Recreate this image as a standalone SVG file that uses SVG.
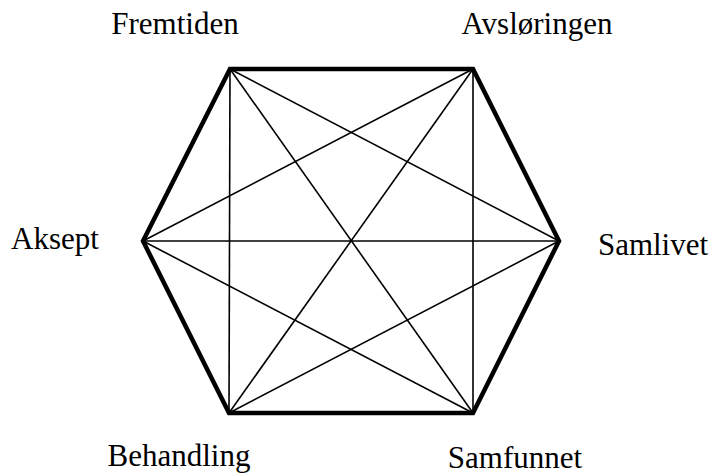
<svg xmlns="http://www.w3.org/2000/svg" width="713" height="476" viewBox="0 0 713 476">
<style>
.edge{stroke:#000;stroke-width:4.5;fill:none;stroke-linejoin:miter}
.diag{stroke:#000;stroke-width:1.6;fill:none}
.lbl{font-family:"Liberation Serif","Times New Roman",serif;font-size:31px;fill:#000;text-anchor:middle}
</style>
<rect width="713" height="476" fill="#fff"/>
<g id="connectors">
<polygon class="edge" points="230,69 473,69 559,241 473,413 229,413 143,241"/>
<line class="diag" x1="230" y1="69" x2="229" y2="413"/>
<line class="diag" x1="473" y1="69" x2="473" y2="413"/>
<line class="diag" x1="143" y1="241" x2="559" y2="241"/>
<line class="diag" x1="230" y1="69" x2="559" y2="241"/>
<line class="diag" x1="230" y1="69" x2="473" y2="413"/>
<line class="diag" x1="473" y1="69" x2="143" y2="241"/>
<line class="diag" x1="473" y1="69" x2="229" y2="413"/>
<line class="diag" x1="143" y1="241" x2="473" y2="413"/>
<line class="diag" x1="559" y1="241" x2="229" y2="413"/>
</g>
<g id="fremtiden"><text class="lbl" x="175" y="34">Fremtiden</text></g>
<g id="avsloringen"><text class="lbl" x="537" y="34">Avsløringen</text></g>
<g id="aksept"><text class="lbl" x="55" y="249">Aksept</text></g>
<g id="samlivet"><text class="lbl" x="653" y="255">Samlivet</text></g>
<g id="behandling"><text class="lbl" x="179" y="466">Behandling</text></g>
<g id="samfunnet"><text class="lbl" x="515" y="468">Samfunnet</text></g>
</svg>
